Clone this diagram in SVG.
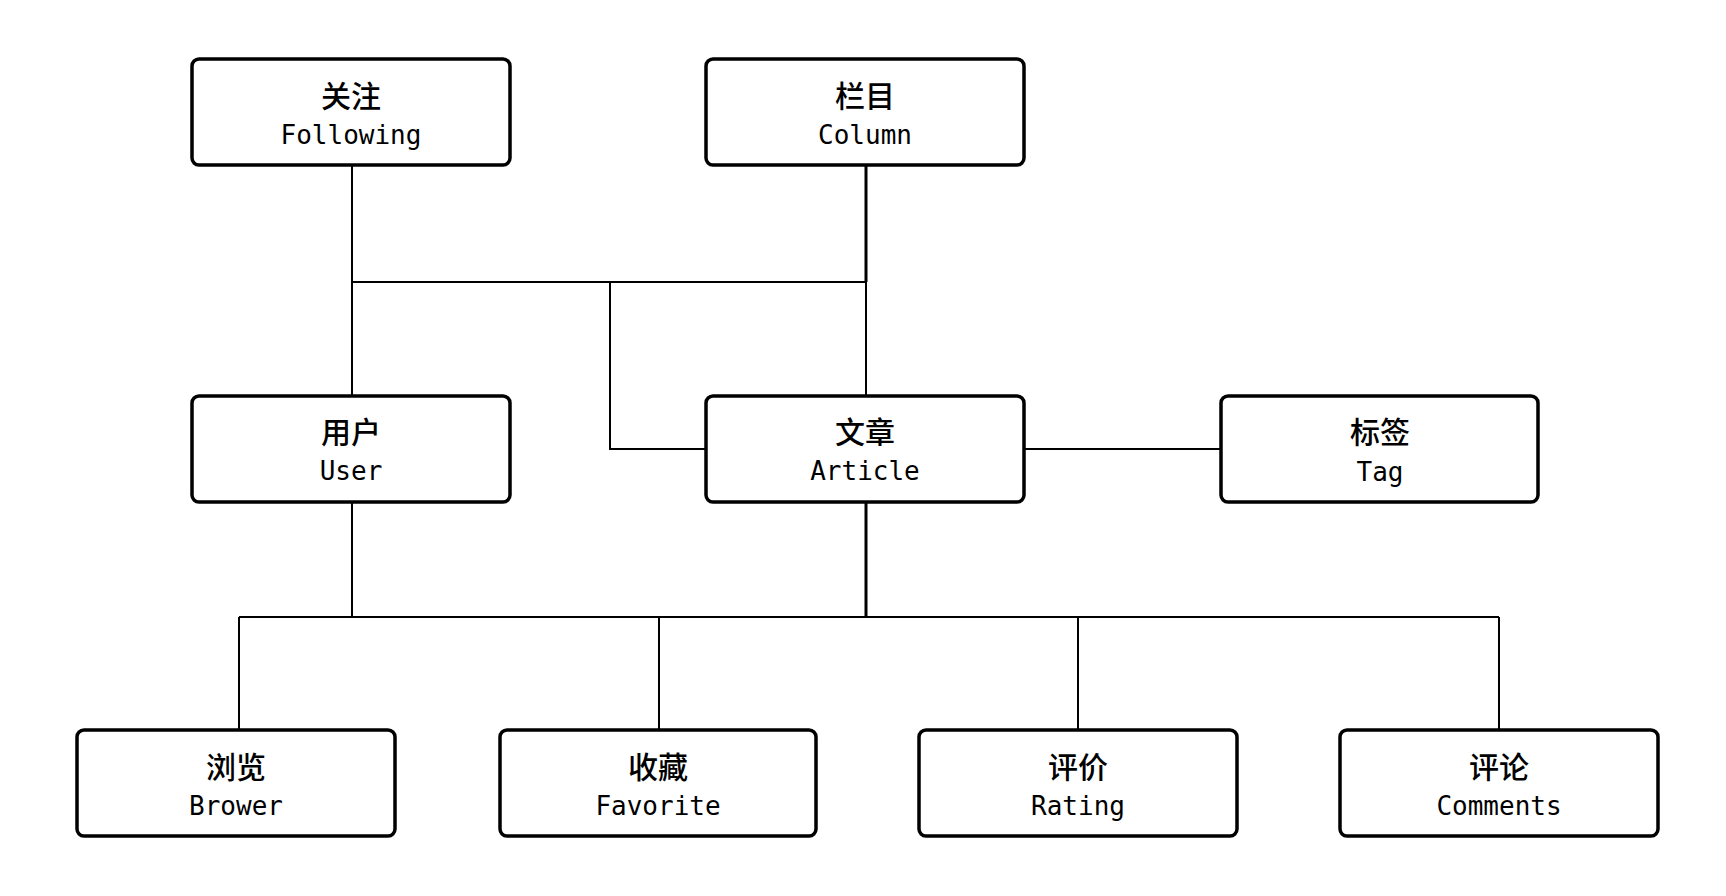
<svg xmlns="http://www.w3.org/2000/svg" width="1726" height="896" viewBox="0 0 1726 896">
<style>
.box{fill:#fff;stroke:#000;stroke-width:3.5}
.zh{font-family:"Noto Sans CJK SC","Noto Sans",sans-serif;font-size:30px;font-weight:500;text-anchor:middle;fill:#000}
.en{font-family:"DejaVu Sans Mono","Liberation Mono",monospace;font-size:26px;text-anchor:middle;fill:#000}
.ln{fill:none;stroke:#000;stroke-width:2}
.lt{fill:none;stroke:#000;stroke-width:3}
</style>
<rect width="1726" height="896" fill="#fff"/>
<g id="connectors">
<path class="ln" d="M352 165V396"/>
<path class="ln" d="M352 282H866"/>
<path class="lt" d="M866 165V282"/>
<path class="ln" d="M866 282V396"/>
<path class="ln" d="M610 282V449H706"/>
<path class="ln" d="M1024 449H1221"/>
<path class="ln" d="M352 502V617"/>
<path class="lt" d="M866 502V617"/>
<path class="ln" d="M239 617H1499"/>
<path class="ln" d="M239 617V730"/>
<path class="ln" d="M659 617V730"/>
<path class="ln" d="M1078 617V730"/>
<path class="ln" d="M1499 617V730"/>
</g>
<g id="following"><rect class="box" x="192" y="59" width="318" height="106" rx="7"/><text class="zh" x="351" y="107">关注</text><text class="en" x="351" y="144">Following</text></g>
<g id="column"><rect class="box" x="706" y="59" width="318" height="106" rx="7"/><text class="zh" x="865" y="107">栏目</text><text class="en" x="865" y="144">Column</text></g>
<g id="user"><rect class="box" x="192" y="396" width="318" height="106" rx="7"/><text class="zh" x="351" y="443">用户</text><text class="en" x="351" y="480">User</text></g>
<g id="article"><rect class="box" x="706" y="396" width="318" height="106" rx="7"/><text class="zh" x="865" y="443">文章</text><text class="en" x="865" y="480">Article</text></g>
<g id="tag"><rect class="box" x="1221" y="396" width="317" height="106" rx="7"/><text class="zh" x="1380" y="443">标签</text><text class="en" x="1380" y="481">Tag</text></g>
<g id="brower"><rect class="box" x="77" y="730" width="318" height="106" rx="7"/><text class="zh" x="236" y="778">浏览</text><text class="en" x="236" y="815">Brower</text></g>
<g id="favorite"><rect class="box" x="500" y="730" width="316" height="106" rx="7"/><text class="zh" x="658" y="778">收藏</text><text class="en" x="658" y="815">Favorite</text></g>
<g id="rating"><rect class="box" x="919" y="730" width="318" height="106" rx="7"/><text class="zh" x="1078" y="778">评价</text><text class="en" x="1078" y="815">Rating</text></g>
<g id="comments"><rect class="box" x="1340" y="730" width="318" height="106" rx="7"/><text class="zh" x="1499" y="778">评论</text><text class="en" x="1499" y="815">Comments</text></g>
</svg>
